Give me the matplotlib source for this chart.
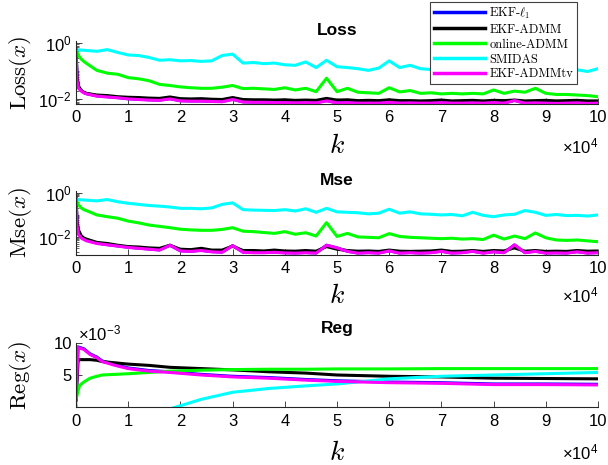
"""Loss / Mse / Reg convergence curves for the five online solvers."""

# --------------------------------------------------
# load necessary modules
# --------------------------------------------------
import matplotlib

matplotlib.use("Agg")
import matplotlib.pyplot as plt
import numpy as np
from matplotlib.font_manager import FontProperties
from matplotlib.ticker import FixedLocator, LogLocator, NullFormatter

# --------------------------------------------------
# data
# --------------------------------------------------
methods = ["EKF-$\\ell_1$", "EKF-ADMM", "online-ADMM", "SMIDAS", "EKF-ADMMtv"]
colors = ["#0000ff", "#000000", "#00ff00", "#00ffff", "#ff00ff"]

# iteration grid for Loss and Mse (dense at the start)
k_grid = [0, 200, 500, 1000, 1500] + list(range(2000, 100001, 2000))

# Loss, stored as log10 values
loss_log_ekf_l1 = [
    -0.20, -1.25, -1.58, -1.70, -1.77,
    -1.81, -1.89, -1.92, -1.95, -1.99, -2.01, -2.03, -2.04, -1.99, -2.06,
    -2.07, -2.07, -2.08, -2.09, -2.01, -2.10, -2.11, -2.11, -2.12, -2.12,
    -2.13, -2.12, -2.13, -2.06, -2.13, -2.12, -2.14, -2.14, -2.14, -2.11,
    -2.14, -2.13, -2.14, -2.14, -2.12, -2.14, -2.14, -2.13, -2.14, -2.12,
    -2.14, -2.05, -2.14, -2.13, -2.14, -2.15, -2.14, -2.13, -2.15, -2.14,
]
loss_log_ekf_admm = [
    -0.20, -1.20, -1.55, -1.70, -1.76,
    -1.80, -1.86, -1.88, -1.92, -1.94, -1.95, -1.97, -1.98, -1.93, -1.99,
    -2.00, -1.99, -2.01, -2.02, -1.95, -2.02, -2.03, -2.03, -2.04, -2.03,
    -2.05, -2.04, -2.05, -1.98, -2.04, -2.03, -2.06, -2.05, -2.06, -2.03,
    -2.06, -2.06, -2.07, -2.06, -2.04, -2.07, -2.06, -2.05, -2.07, -2.05,
    -2.06, -2.04, -2.07, -2.06, -2.05, -2.07, -2.06, -2.05, -2.07, -2.07,
]
loss_log_online_admm = [
    -0.19, -0.32, -0.45, -0.58, -0.66,
    -0.73, -0.98, -1.08, -1.12, -1.24, -1.28, -1.35, -1.48, -1.52, -1.57,
    -1.60, -1.62, -1.62, -1.58, -1.52, -1.63, -1.62, -1.64, -1.66, -1.60,
    -1.68, -1.62, -1.74, -1.26, -1.74, -1.62, -1.76, -1.78, -1.80, -1.60,
    -1.75, -1.70, -1.80, -1.78, -1.82, -1.80, -1.82, -1.80, -1.82, -1.68,
    -1.80, -1.72, -1.76, -1.62, -1.80, -1.84, -1.84, -1.86, -1.88, -1.92,
]
loss_log_smidas = [
    -0.25, -0.25, -0.25, -0.26, -0.26,
    -0.27, -0.30, -0.24, -0.34, -0.43, -0.45, -0.52, -0.62, -0.60, -0.64,
    -0.63, -0.66, -0.64, -0.45, -0.40, -0.72, -0.70, -0.74, -0.72, -0.78,
    -0.80, -0.68, -0.88, -0.62, -0.85, -0.88, -0.92, -0.98, -0.90, -0.64,
    -0.88, -0.80, -0.92, -0.95, -0.95, -0.93, -0.97, -0.90, -0.98, -1.00,
    -0.95, -0.98, -0.92, -0.95, -0.98, -1.00, -0.97, -0.96, -1.02, -0.92,
]
loss_log_ekf_admmtv = [
    -0.20, -1.35, -1.62, -1.72, -1.78,
    -1.82, -1.90, -1.93, -1.96, -2.00, -2.02, -2.04, -2.05, -2.00, -2.07,
    -2.08, -2.08, -2.09, -2.10, -2.02, -2.11, -2.12, -2.12, -2.13, -2.13,
    -2.14, -2.13, -2.14, -2.07, -2.14, -2.13, -2.15, -2.15, -2.15, -2.12,
    -2.15, -2.14, -2.15, -2.15, -2.13, -2.15, -2.15, -2.14, -2.15, -2.13,
    -2.15, -2.06, -2.15, -2.14, -2.15, -2.16, -2.15, -2.14, -2.16, -2.15,
]

# Mse, stored as log10 values
mse_log_ekf_l1 = [
    -0.20, -1.40, -1.82, -2.00, -2.08,
    -2.14, -2.28, -2.35, -2.41, -2.47, -2.51, -2.55, -2.59, -2.38, -2.63,
    -2.65, -2.61, -2.67, -2.69, -2.40, -2.69, -2.71, -2.71, -2.69, -2.72,
    -2.73, -2.71, -2.73, -2.38, -2.50, -2.65, -2.73, -2.71, -2.73, -2.63,
    -2.73, -2.71, -2.73, -2.71, -2.65, -2.73, -2.71, -2.65, -2.73, -2.67,
    -2.71, -2.37, -2.71, -2.65, -2.73, -2.72, -2.73, -2.67, -2.73, -2.71,
]
mse_log_ekf_admm = [
    -0.20, -1.30, -1.70, -1.95, -2.05,
    -2.10, -2.25, -2.30, -2.38, -2.44, -2.46, -2.50, -2.52, -2.38, -2.56,
    -2.58, -2.52, -2.60, -2.60, -2.42, -2.62, -2.62, -2.64, -2.60, -2.64,
    -2.65, -2.62, -2.65, -2.44, -2.56, -2.62, -2.65, -2.64, -2.66, -2.60,
    -2.65, -2.66, -2.65, -2.64, -2.60, -2.66, -2.65, -2.62, -2.66, -2.62,
    -2.64, -2.50, -2.65, -2.62, -2.66, -2.65, -2.66, -2.62, -2.65, -2.64,
]
mse_log_online_admm = [
    -0.27, -0.40, -0.55, -0.68, -0.76,
    -0.80, -1.00, -1.08, -1.15, -1.28, -1.36, -1.46, -1.52, -1.58, -1.65,
    -1.68, -1.70, -1.70, -1.66, -1.58, -1.74, -1.76, -1.80, -1.84, -1.76,
    -1.88, -1.81, -1.96, -1.35, -1.98, -1.84, -2.00, -2.02, -2.04, -1.85,
    -1.98, -2.02, -2.04, -2.06, -2.08, -2.06, -2.10, -2.08, -2.12, -1.92,
    -2.10, -1.96, -2.08, -1.82, -2.04, -2.14, -2.16, -2.14, -2.18, -2.22,
]
mse_log_smidas = [
    -0.29, -0.29, -0.30, -0.31, -0.32,
    -0.33, -0.36, -0.30, -0.40, -0.47, -0.52, -0.57, -0.60, -0.64, -0.70,
    -0.70, -0.72, -0.68, -0.52, -0.45, -0.76, -0.78, -0.79, -0.80, -0.76,
    -0.82, -0.72, -0.88, -0.70, -0.86, -0.88, -0.90, -0.95, -0.92, -0.74,
    -0.92, -0.86, -0.95, -0.97, -1.00, -0.98, -1.04, -0.88, -1.02, -1.08,
    -1.00, -0.97, -0.80, -0.88, -1.02, -0.98, -1.03, -1.02, -1.05, -1.00,
]
mse_log_ekf_admmtv = [
    -0.20, -1.50, -1.90, -2.05, -2.12,
    -2.18, -2.30, -2.36, -2.42, -2.48, -2.52, -2.56, -2.60, -2.38, -2.64,
    -2.66, -2.62, -2.68, -2.70, -2.40, -2.70, -2.72, -2.72, -2.70, -2.73,
    -2.74, -2.72, -2.74, -2.38, -2.50, -2.66, -2.74, -2.72, -2.74, -2.64,
    -2.74, -2.72, -2.74, -2.72, -2.66, -2.74, -2.72, -2.66, -2.74, -2.68,
    -2.72, -2.36, -2.72, -2.66, -2.74, -2.73, -2.74, -2.68, -2.74, -2.72,
]

# Reg, in units of 1e-3 (SMIDAS dips below the axis early on)
k_reg = [0, 400, 700, 1500, 2700, 4000, 5000, 7500, 10000, 14000, 18000,
         24000, 30000, 37000, 44000, 50000, 60000, 70000, 80000, 90000, 100000]
reg_ekf_l1 = [1.2, 9.4, 9.3, 9.1, 8.3, 7.8, 7.2, 6.6, 6.1, 5.7, 5.5,
              5.1, 4.8, 4.6, 4.3, 4.1, 3.9, 3.8, 3.6, 3.6, 3.55]
reg_ekf_admm = [1.0, 7.2, 7.4, 7.4, 7.4, 7.3, 7.1, 6.9, 6.7, 6.5, 6.2,
                6.0, 5.8, 5.5, 5.3, 5.0, 4.8, 4.7, 4.5, 4.45, 4.4]
reg_online_admm = [1.2, 2.5, 3.4, 3.9, 4.5, 4.8, 5.0, 5.1, 5.2, 5.4, 5.6,
                   5.75, 5.85, 5.9, 5.9, 5.95, 5.95, 6.0, 6.0, 6.0, 6.0]
reg_smidas = [0.5, -1.0, -1.5, -2.0, -2.0, -2.0, -2.0, -1.8, -1.5, -1.0, -0.3,
              1.2, 2.3, 2.9, 3.3, 3.6, 4.4, 4.8, 5.0, 5.2, 5.4]
reg_ekf_admmtv = [1.2, 9.3, 9.2, 9.0, 8.2, 7.7, 7.1, 6.5, 6.0, 5.6, 5.4,
                  5.0, 4.7, 4.5, 4.2, 4.0, 3.8, 3.7, 3.5, 3.5, 3.45]

x_ticks = list(range(0, 100001, 10000))
x_tick_labels = [str(t // 10000) for t in x_ticks]

# --------------------------------------------------
# global style (MATLAB-like)
# --------------------------------------------------
plt.rcParams["font.family"] = ["Liberation Sans", "DejaVu Sans"]
plt.rcParams["mathtext.fontset"] = "custom"
plt.rcParams["mathtext.rm"] = "Liberation Sans"
plt.rcParams["mathtext.it"] = "Liberation Sans:italic"
plt.rcParams["mathtext.bf"] = "Liberation Sans:bold"
plt.rcParams["axes.edgecolor"] = "#262626"
plt.rcParams["axes.linewidth"] = 0.8
plt.rcParams["xtick.direction"] = "in"
plt.rcParams["ytick.direction"] = "in"
plt.rcParams["xtick.color"] = "#262626"
plt.rcParams["ytick.color"] = "#262626"
plt.rcParams["xtick.labelcolor"] = "black"
plt.rcParams["ytick.labelcolor"] = "black"

W, H = 608, 465


def axes_rect(top_px, bottom_px, left_px=76, right_px=598):
    """Axes rectangle in figure fraction from pixel edges."""
    return [left_px / W, 1 - bottom_px / H, (right_px - left_px) / W, (bottom_px - top_px) / H]


def style_axes(ax, title, ylabel, xlabel_y, label_pad, offset_y):
    ax.spines["top"].set_visible(False)
    ax.spines["right"].set_visible(False)
    ax.set_xlim(0, 100000)
    ax.set_xticks(x_ticks, x_tick_labels)
    ax.tick_params(axis="both", which="major", labelsize=12, length=4.5, width=0.6)
    ax.tick_params(axis="x", pad=label_pad)
    ax.tick_params(axis="y", pad=3)
    ax.tick_params(axis="y", which="minor", length=2.5, width=0.5)
    ax.set_title(title, fontsize=12.5, fontweight="bold", pad=4)
    ax.set_ylabel(ylabel, fontsize=16.5, math_fontfamily="cm")
    ax.yaxis.set_label_coords(-0.081, 0.5)
    ax.set_xlabel("$k$", fontsize=20, math_fontfamily="cm", va="top")
    ax.xaxis.set_label_coords(0.5, xlabel_y)
    ax.text(1.0, offset_y, r"$\times\mathdefault{10^{4}}$", transform=ax.transAxes,
            ha="right", va="top", fontsize=12)


def log_axis(ax, ylim):
    ax.set_yscale("log")
    ax.set_ylim(*ylim)
    ax.yaxis.set_major_locator(FixedLocator([1e-2, 1.0]))
    ax.yaxis.set_minor_locator(LogLocator(base=10, subs=np.arange(1, 10), numticks=20))
    ax.yaxis.set_minor_formatter(NullFormatter())


# --------------------------------------------------
# figure
# --------------------------------------------------
fig = plt.figure(figsize=(W / 100, H / 100), dpi=100)
ax_loss = fig.add_axes(axes_rect(41, 104))
ax_mse = fig.add_axes(axes_rect(191, 255))
ax_reg = fig.add_axes(axes_rect(343, 407))

loss_series = [loss_log_ekf_l1, loss_log_ekf_admm, loss_log_online_admm, loss_log_smidas, loss_log_ekf_admmtv]
mse_series = [mse_log_ekf_l1, mse_log_ekf_admm, mse_log_online_admm, mse_log_smidas, mse_log_ekf_admmtv]
reg_series = [reg_ekf_l1, reg_ekf_admm, reg_online_admm, reg_smidas, reg_ekf_admmtv]

for name, color, lo, ms, rg in zip(methods, colors, loss_series, mse_series, reg_series):
    ax_loss.plot(k_grid, 10.0 ** np.array(lo), color=color, lw=2.2, label=name)
    ax_mse.plot(k_grid, 10.0 ** np.array(ms), color=color, lw=2.2)
    ax_reg.plot(k_reg, np.array(rg) * 1e-3, color=color, lw=2.2)

log_axis(ax_loss, (0.0066, 1.17))
log_axis(ax_mse, (0.0015, 1.23))
ax_reg.set_ylim(0, 0.01)
ax_reg.set_yticks([0.005, 0.01], ["5", "10"])

style_axes(ax_loss, "Loss", r"$\mathrm{Loss}(x)$", -0.46, 4, -0.52)
style_axes(ax_mse, "Mse", r"$\mathrm{Mse}(x)$", -0.44, 4, -0.48)
style_axes(ax_reg, "Reg", r"$\mathrm{Reg}(x)$", -0.52, 5, -0.55)
ax_reg.set_title("Reg", fontsize=12.5, fontweight="bold", pad=7)
ax_reg.text(0.004, 1.0, r"$\times\mathdefault{10^{-3}}$", transform=ax_reg.transAxes,
            ha="left", va="bottom", fontsize=12)

# legend sits on top of the Loss panel, touching the figure top
leg = ax_loss.legend(
    loc="upper right",
    bbox_to_anchor=(577 / W, 1 - 2 / H),
    bbox_transform=fig.transFigure,
    prop=FontProperties(family="cmr10", size=9, math_fontfamily="cm"),
    frameon=True,
    fancybox=False,
    framealpha=1,
    edgecolor="#404040",
    borderpad=0.3,
    labelspacing=0.22,
    handlelength=4.1,
    handletextpad=0.35,
    borderaxespad=0,
)
leg.get_frame().set_linewidth(0.8)
for line in leg.get_lines():
    line.set_linewidth(2.5)

fig.savefig("out.png", dpi=100)
plt.close(fig)
